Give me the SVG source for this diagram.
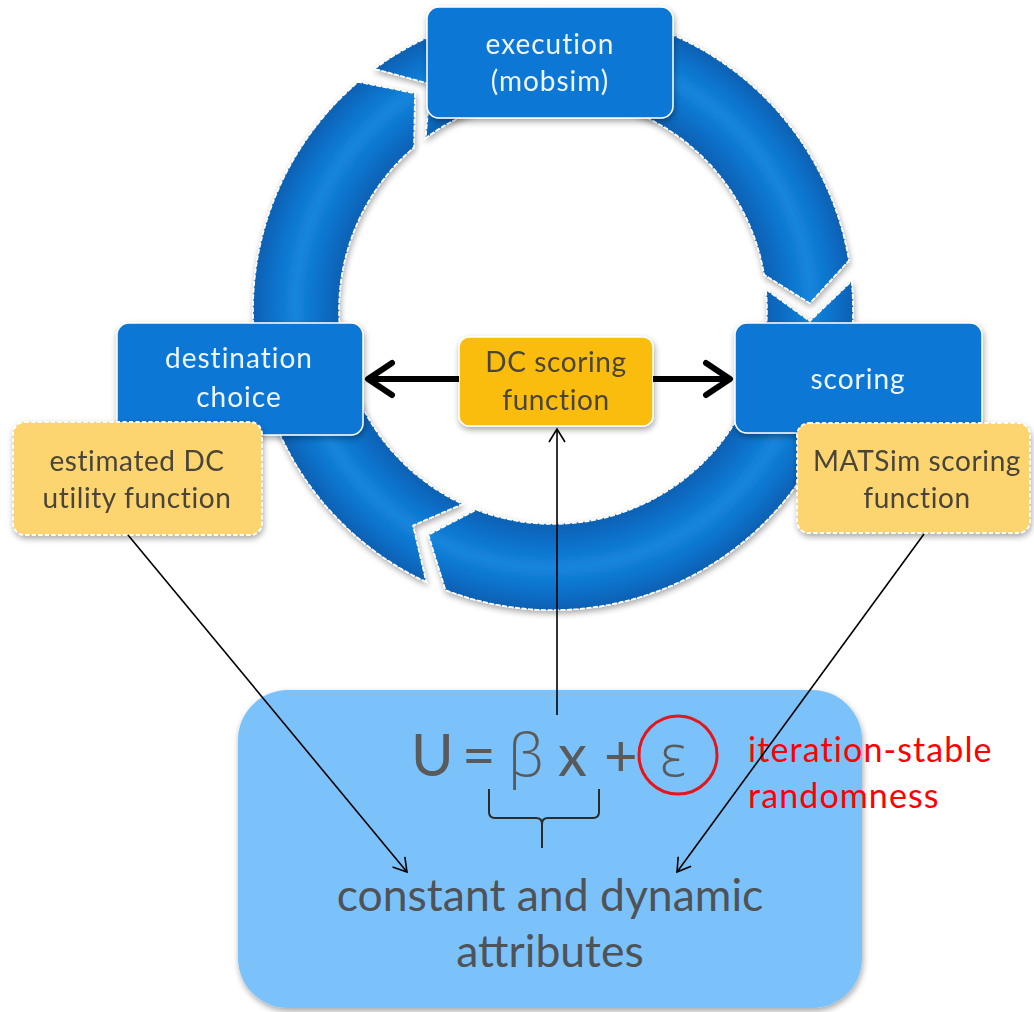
<svg xmlns="http://www.w3.org/2000/svg" width="1034" height="1012" viewBox="0 0 1034 1012">
<defs>
<style>
.blue{fill:#0b77d5;stroke:#ffffff;stroke-width:1.5}
.yel{fill:#fcd470;stroke:#ffffff;stroke-width:1.8;stroke-dasharray:4 2.5}
.org{fill:#fbbd10;stroke:#ffffff;stroke-width:1.5}
.ring{fill:url(#ringGrad);stroke:#ffffff;stroke-width:1.6;stroke-dasharray:5 1.5}
.tw{font-family:Lato,"Open Sans","Liberation Sans",sans-serif;font-size:28px;letter-spacing:1px;fill:#eef5fc;text-anchor:middle}
.td{font-family:Lato,"Open Sans","Liberation Sans",sans-serif;font-size:28px;letter-spacing:0.6px;fill:#4a4438;text-anchor:middle}
.fm{font-family:Lato,"Open Sans","Liberation Sans",sans-serif;font-size:58px;fill:#5a5a5a}
.gk{font-family:"Open Sans","Noto Sans",sans-serif;font-size:58px;fill:#5a5a5a;font-weight:300}
.red{font-family:Lato,"Open Sans","Liberation Sans",sans-serif;font-size:34px;letter-spacing:1.1px;fill:#ff0000}
.big{font-family:Lato,"Open Sans","Liberation Sans",sans-serif;font-size:44.5px;fill:#4f5256;text-anchor:middle}
.thick{stroke:#000;stroke-width:6;fill:none}
.thin{stroke:#000;stroke-width:1.6;fill:none}
</style>
<radialGradient id="ringGrad" gradientUnits="userSpaceOnUse" cx="553" cy="310" r="300">
<stop offset="0.71" stop-color="#0760b2"/>
<stop offset="0.78" stop-color="#0b70c9"/>
<stop offset="0.86" stop-color="#1585dc"/>
<stop offset="0.94" stop-color="#0b70c9"/>
<stop offset="1" stop-color="#0760b2"/>
</radialGradient>
<filter id="sh" x="-20%" y="-20%" width="140%" height="140%">
<feGaussianBlur in="SourceAlpha" stdDeviation="3"/>
<feOffset dx="1" dy="3" result="b"/>
<feComponentTransfer><feFuncA type="linear" slope="0.35"/></feComponentTransfer>
<feMerge><feMergeNode/><feMergeNode in="SourceGraphic"/></feMerge>
</filter>
<marker id="headThick" markerUnits="userSpaceOnUse" viewBox="-32 -22 38 44" refX="0" refY="0" markerWidth="38" markerHeight="44" orient="auto">
<path d="M-24,-16 L0,0 L-24,16" fill="none" stroke="#000" stroke-width="6" stroke-linecap="round" stroke-linejoin="round"/>
</marker>
<marker id="headThin" markerUnits="userSpaceOnUse" viewBox="-16 -10 18 20" refX="0" refY="0" markerWidth="18" markerHeight="20" orient="auto">
<path d="M-13,-8 L0,0 L-13,8" fill="none" stroke="#000" stroke-width="1.6"/>
</marker>
</defs>
<rect width="1034" height="1012" fill="#ffffff"/>

<g id="cycle" filter="url(#sh)">
<path class="ring" d="M851.6,281.2 A300,300 0 0 1 445.5,590.1 L428.4,534.8 L476.3,509.8 A214,214 0 0 0 766.0,289.5 L809.8,321.2 Z"/>
<path class="ring" d="M426.2,581.9 A300,300 0 0 1 358.2,81.9 L414.9,93.3 L414.0,147.3 A214,214 0 0 0 462.6,504.0 L413.0,525.5 Z"/>
<path class="ring" d="M374.6,68.8 A300,300 0 0 1 848.9,260.5 L809.9,303.3 L764.1,274.7 A214,214 0 0 0 425.7,138.0 L430.4,84.1 Z"/>
</g>

<g id="formula-box">
<rect x="238" y="690" width="624" height="318" rx="50" fill="#7cc2fa" filter="url(#sh)"/>
</g>

<g id="execution" filter="url(#sh)">
<rect class="blue" x="427" y="7" width="246" height="111" rx="12"/>
<text class="tw" x="550" y="54">execution</text>
<text class="tw" x="550" y="91">(mobsim)</text>
</g>

<g id="destination-choice" filter="url(#sh)">
<rect class="blue" x="117" y="323" width="246" height="112" rx="12"/>
<text class="tw" x="239" y="368">destination</text>
<text class="tw" x="239" y="407">choice</text>
</g>

<g id="scoring" filter="url(#sh)">
<rect class="blue" x="735" y="323" width="247" height="110" rx="12"/>
<text class="tw" x="858" y="389">scoring</text>
</g>

<g id="estimated-dc" filter="url(#sh)">
<rect class="yel" x="13" y="422" width="249" height="113" rx="12"/>
<text class="td" x="137" y="471">estimated DC</text>
<text class="td" x="137" y="508">utility function</text>
</g>

<g id="matsim-scoring" filter="url(#sh)">
<rect class="yel" x="797" y="423" width="233" height="110" rx="12"/>
<text class="td" x="917" y="471">MATSim scoring</text>
<text class="td" x="917" y="508">function</text>
</g>

<g id="dc-scoring" filter="url(#sh)">
<rect class="org" x="459" y="337" width="194" height="89" rx="10"/>
<text class="td" x="556" y="372">DC scoring</text>
<text class="td" x="556" y="410">function</text>
</g>

<g id="formula">
<text class="fm" x="411" y="776">U</text>
<text class="fm" x="462" y="776">=</text>
<text class="gk" x="508" y="776">β</text>
<text class="fm" x="558" y="776">x</text>
<text class="fm" x="604" y="776">+</text>
<text class="gk" x="660" y="776">ε</text>
<circle cx="678" cy="755" r="39" fill="none" stroke="#e5161b" stroke-width="3"/>
<path d="M489,789 L489,812 Q489,818 495,818 L536,818 Q542,818 542,824 L542,848 M542,824 Q542,818 548,818 L593,818 Q599,818 599,812 L599,789" fill="none" stroke="#2b2b2b" stroke-width="2"/>
<text class="red" x="748" y="762">iteration-stable</text>
<text class="red" x="748" y="808">randomness</text>
<text class="big" x="550" y="911">constant and dynamic</text>
<text class="big" x="550" y="967">attributes</text>
</g>

<g id="connectors">
<line class="thick" x1="459" y1="379" x2="368" y2="379" marker-end="url(#headThick)"/>
<line class="thick" x1="653" y1="379" x2="730" y2="379" marker-end="url(#headThick)"/>
<line class="thin" x1="557" y1="715" x2="557" y2="429" marker-end="url(#headThin)"/>
<line class="thin" x1="128" y1="535" x2="407" y2="872" marker-end="url(#headThin)"/>
<line class="thin" x1="924" y1="534" x2="677" y2="872" marker-end="url(#headThin)"/>
</g>
</svg>
